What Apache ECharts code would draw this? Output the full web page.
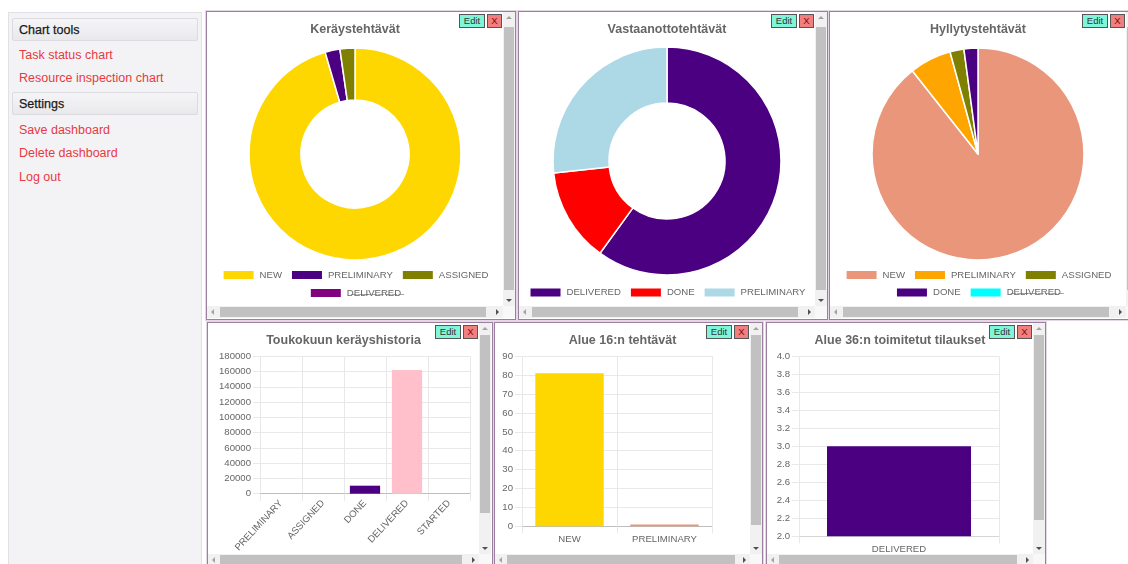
<!DOCTYPE html>
<html>
<head>
<meta charset="utf-8">
<title>Dashboard</title>
<script src="https://cdn.jsdelivr.net/npm/echarts@6/dist/echarts.min.js"></script>
<style>
body { margin: 0; width: 1128px; height: 564px; overflow: hidden; background: #fff; position: relative;
  font-family: 'Liberation Sans', Arial, sans-serif; }
.side { position: absolute; left: 8px; top: 12px; width: 192px; height: 560px; background: #f3f3f6; border: 1px solid #e1e1e5; }
.side .head { position: absolute; left: 3px; width: 178px; height: 21px; line-height: 22px; padding-left: 6px;
  background: linear-gradient(#f5f5f7, #e9e9ec); border: 1px solid #dcdce0; border-radius: 2px; font-size: 12.5px; color: #1a1a1a;
  -webkit-text-stroke: 0.25px #1a1a1a; }
.side .link { position: absolute; left: 10px; height: 16px; line-height: 16px; font-size: 12.5px; color: #e8393f; }
.panel { position: absolute; border: 1px solid #9c7fa0; box-shadow: 0 0 0 1px #e3d8e4; background: #fff; overflow: hidden; }
.chart { position: absolute; left: 0; top: 0; }
.btn { position: absolute; top: 2px; height: 12px; line-height: 12px; font-size: 9.5px; text-align: center; border: 1px solid #555; }
.edit { width: 24px; background: #7ff5da; color: #333; }
.close { width: 13px; background: #f08080; color: #8b0000; }
.vbar { position: absolute; top: 0; width: 12px; background: #f1f1f1; }
.vbar .thumb { position: absolute; left: 1px; width: 10px; background: #c1c1c1; }
.hbar { position: absolute; left: 0; height: 12px; background: #f1f1f1; }
.hbar .thumb { position: absolute; top: 1px; height: 10px; background: #c1c1c1; }
.corner { position: absolute; width: 12px; height: 12px; background: #f8f8f8; }
.up, .down, .left, .right { position: absolute; width: 0; height: 0; }
.up { left: 3px; top: 4px; border-left: 3px solid transparent; border-right: 3px solid transparent; border-bottom: 3px solid #a3a3a3; }
.down { left: 3px; bottom: 4px; border-left: 3px solid transparent; border-right: 3px solid transparent; border-top: 3px solid #505050; }
.left { left: 4px; top: 3px; border-top: 3px solid transparent; border-bottom: 3px solid transparent; border-right: 3px solid #a3a3a3; }
.right { right: 4px; top: 3px; border-top: 3px solid transparent; border-bottom: 3px solid transparent; border-left: 3px solid #505050; }
</style>
</head>
<body>
<div class="side">
  <div class="head" style="top:5px">Chart tools</div>
  <div class="link" style="top:34px">Task status chart</div>
  <div class="link" style="top:57px">Resource inspection chart</div>
  <div class="head" style="top:79px">Settings</div>
  <div class="link" style="top:109px">Save dashboard</div>
  <div class="link" style="top:132px">Delete dashboard</div>
  <div class="link" style="top:156px">Log out</div>
</div>

<div class="panel" id="p1" style="left:206px;top:11px;width:308px;height:307px"></div>
<div class="panel" id="p2" style="left:518px;top:11px;width:308px;height:307px"></div>
<div class="panel" id="p3" style="left:829px;top:11px;width:308px;height:307px"></div>
<div class="panel" id="p4" style="left:207px;top:322px;width:284px;height:243px"></div>
<div class="panel" id="p5" style="left:494px;top:322px;width:267px;height:243px"></div>
<div class="panel" id="p6" style="left:766px;top:322px;width:278px;height:243px"></div>

<script>
// keräys (picking) tasks
var pickCategories = ['NEW', 'PRELIMINARY', 'ASSIGNED', 'DELIVERED']
var pickValues = [42, 1, 1, null]
var pickColors = ['#ffd700', '#4b0082', '#808000', '#800080']
var pickHidden = ['DELIVERED']

// vastaanotto (receiving) tasks
var receiveCategories = ['DELIVERED', 'DONE', 'PRELIMINARY']
var receiveValues = [9, 2, 4]
var receiveColors = ['#4b0082', '#ff0000', '#add8e6']

// hyllytys (shelving) tasks
var shelveCategories = ['NEW', 'PRELIMINARY', 'ASSIGNED', 'DONE', 'DELIVERED']
var shelveValues = [42, 3, 1, 1, null]
var shelveColors = ['#e9967a', '#ffa500', '#808000', '#4b0082', '#00ffff']
var shelveHidden = ['DELIVERED']

// toukokuun keräyshistoria
var historyCategories = ['PRELIMINARY', 'ASSIGNED', 'DONE', 'DELIVERED', 'STARTED']
var historyValues = [0, 0, 10500, 162000, 0]
var historyColors = ['#add8e6', '#808000', '#4b0082', '#ffc0cb', '#ffd700']

// alue 16
var area16Categories = ['NEW', 'PRELIMINARY']
var area16Values = [81, 1]
var area16Colors = ['#ffd700', '#e9967a']

// alue 36
var area36Categories = ['DELIVERED']
var area36Values = [3]
var area36Colors = ['#4b0082']

var FONT = "'Liberation Sans', Arial, sans-serif"
var GRID_COLOR = '#e8e8e8'

// panel chrome: chart div, buttons, scrollbars
function makePanel (id, w, h, vThumb, hThumb) {
  var p = document.getElementById(id)
  var html = '<div class="chart" id="' + id + 'c" style="width:' + w + 'px;height:' + h + 'px"></div>'
  html += '<div class="btn edit" style="left:' + (w - 44) + 'px">Edit</div>'
  html += '<div class="btn close" style="left:' + (w - 16) + 'px">X</div>'
  html += '<div class="vbar" style="left:' + w + 'px;height:' + h + 'px"><div class="up"></div>' +
    '<div class="thumb" style="top:' + vThumb[0] + 'px;height:' + vThumb[1] + 'px"></div><div class="down"></div></div>'
  html += '<div class="hbar" style="top:' + h + 'px;width:' + w + 'px"><div class="left"></div>' +
    '<div class="thumb" style="left:' + hThumb[0] + 'px;width:' + hThumb[1] + 'px"></div><div class="right"></div></div>'
  html += '<div class="corner" style="left:' + w + 'px;top:' + h + 'px"></div>'
  p.innerHTML = html
  return echarts.init(document.getElementById(id + 'c'))
}

function strike (s) {
  return s.split('').map(function (c) { return c + '\u0336' }).join('')
}

function titleOpt (text) {
  return {
    text: text,
    left: 'center',
    top: 11,
    padding: 0,
    textStyle: { fontFamily: FONT, fontSize: 12.5, fontWeight: 'bold', color: '#666', lineHeight: 14 }
  }
}

function drawPie (chart, title, cats, vals, colors, hidden, radius, cy, rows, rowTops) {
  var legends = rows.map(function (row, i) {
    return {
      data: row,
      left: 'center',
      top: rowTops[i],
      padding: 0,
      itemWidth: 32,
      itemHeight: 10,
      itemGap: 8,
      icon: 'rect',
      selectedMode: false,
      formatter: function (name) {
        return hidden.indexOf(name) >= 0 ? strike(name) : name
      },
      textStyle: { fontFamily: FONT, fontSize: 9.6, color: '#666', lineHeight: 12 }
    }
  })
  chart.setOption({
    animation: false,
    title: titleOpt(title),
    legend: legends,
    series: [{
      type: 'pie',
      center: ['50%', cy],
      radius: radius,
      startAngle: 90,
      clockwise: true,
      label: { show: false },
      labelLine: { show: false },
      emphasis: { scale: false },
      itemStyle: { borderColor: '#fff', borderWidth: 1.5 },
      data: cats.map(function (c, i) {
        return { name: c, value: vals[i], itemStyle: { color: colors[i] } }
      })
    }]
  })
}

function drawBar (chart, title, cats, vals, colors, yOpt, grid, rotate, zeroLine) {
  chart.setOption({
    animation: false,
    title: titleOpt(title),
    grid: Object.assign({ outerBoundsMode: 'none', containLabel: false }, grid),
    xAxis: {
      type: 'category',
      data: cats,
      axisLine: { lineStyle: { color: zeroLine, width: 1 } },
      axisTick: { show: true, length: 7, lineStyle: { color: GRID_COLOR } },
      splitLine: { show: true, lineStyle: { color: GRID_COLOR } },
      axisLabel: { interval: 0, rotate: rotate, margin: 8, color: '#666', fontFamily: FONT, fontSize: 9.6 }
    },
    yAxis: {
      type: 'value',
      min: yOpt.min,
      max: yOpt.max,
      interval: yOpt.interval,
      axisLine: { show: false },
      axisTick: { show: true, length: 7, lineStyle: { color: GRID_COLOR } },
      splitLine: { show: true, lineStyle: { color: GRID_COLOR } },
      axisLabel: {
        margin: 9, color: '#666', fontFamily: FONT, fontSize: 9.6,
        formatter: yOpt.formatter || function (v) { return String(v) }
      }
    },
    series: [{
      type: 'bar',
      barWidth: '72%',
      emphasis: { disabled: true },
      data: vals.map(function (v, i) {
        return { value: v, itemStyle: { color: colors[i] } }
      })
    }]
  })
}

var c1 = makePanel('p1', 296, 294, [15, 263], [13, 266])
drawPie(c1, 'Keräystehtävät', pickCategories, pickValues, pickColors, pickHidden,
  [54, 106], 142, [['NEW', 'PRELIMINARY', 'ASSIGNED'], ['DELIVERED']], [257, 275])

var c2 = makePanel('p2', 296, 294, [15, 263], [13, 266])
drawPie(c2, 'Vastaanottotehtävät', receiveCategories, receiveValues, receiveColors, [],
  [58, 114], 149, [['DELIVERED', 'DONE', 'PRELIMINARY']], [274.5])

var c3 = makePanel('p3', 296, 294, [15, 263], [13, 266])
drawPie(c3, 'Hyllytystehtävät', shelveCategories, shelveValues, shelveColors, shelveHidden,
  [0, 106], 142, [['NEW', 'PRELIMINARY', 'ASSIGNED'], ['DONE', 'DELIVERED']], [257, 274.5])

var c4 = makePanel('p4', 271, 231, [12, 178], [12, 242])
drawBar(c4, 'Toukokuun keräyshistoria', historyCategories, historyValues, historyColors,
  { min: 0, max: 180000, interval: 20000 },
  { left: 52, right: 9, top: 33.3, bottom: 60.3 }, 47, '#bdbdbd')

var c5 = makePanel('p5', 255, 231, [12, 190], [12, 228])
drawBar(c5, 'Alue 16:n tehtävät', area16Categories, area16Values, area16Colors,
  { min: 0, max: 90, interval: 10 },
  { left: 27, right: 38, top: 33.3, bottom: 27.7 }, 0, '#bdbdbd')

var c6 = makePanel('p6', 266, 231, [12, 185], [12, 238])
drawBar(c6, 'Alue 36:n toimitetut tilaukset', area36Categories, area36Values, area36Colors,
  { min: 2, max: 4, interval: 0.2, formatter: function (v) { return v.toFixed(1) } },
  { left: 32, right: 34, top: 33.3, bottom: 17.7 }, 0, '#d6d6d6')
</script>
</body>
</html>
